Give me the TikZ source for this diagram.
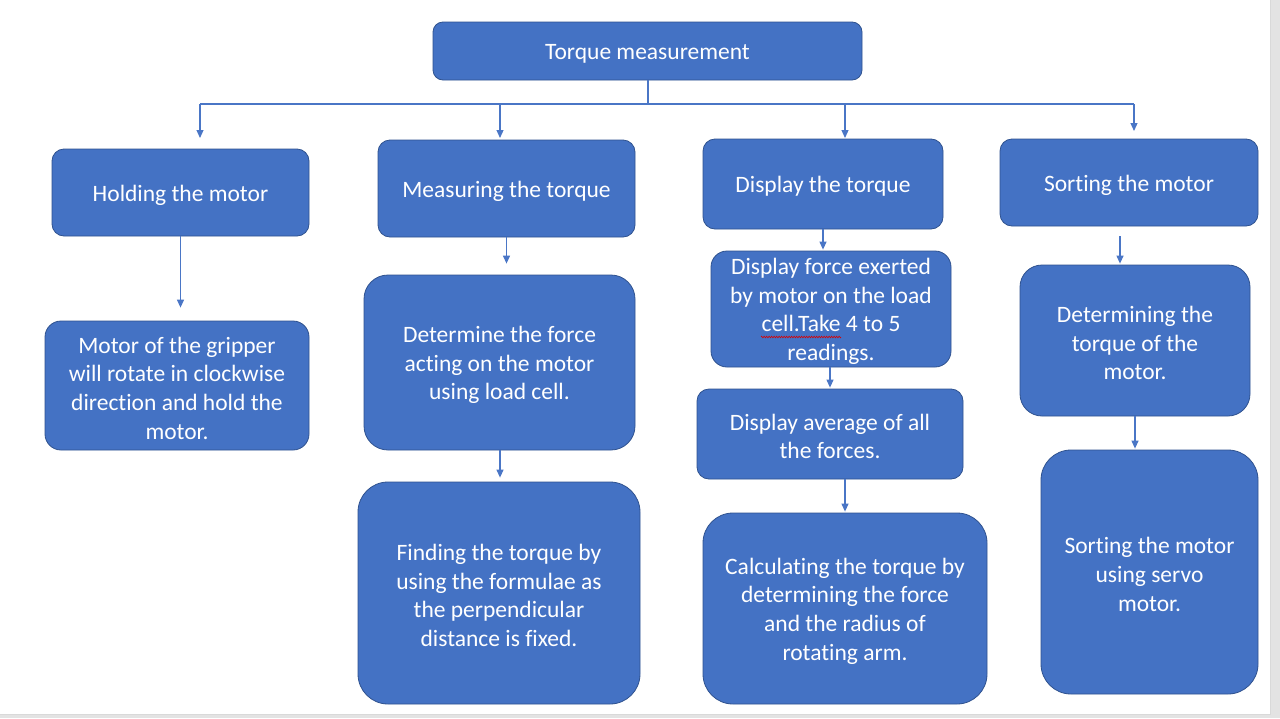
\documentclass[tikz,border=0pt]{standalone}
\usepackage{fontspec}
\setmainfont{Carlito}[Ligatures=NoCommon]
\usetikzlibrary{arrows.meta,decorations.pathmorphing}
\definecolor{boxblue}{HTML}{4472C4}
\definecolor{boxedge}{HTML}{2F528F}
\definecolor{lineblue}{HTML}{4A76C6}
\definecolor{edgegrey}{HTML}{E3E3E3}
\tikzset{
  bx/.style={draw=boxedge, line width=0.8pt, fill=boxblue, rounded corners=#1, inner sep=0pt},
  bx/.default=12pt,
  bxtext/.style={text=white, align=center, inner sep=0pt, font=\fontsize{23.5}{28.7}\selectfont},
  arr/.style={draw=lineblue, line width=1.2pt, -{Triangle[length=8pt,width=7pt]}},
  ln/.style={draw=lineblue, line width=1.2pt}
}
\newcommand{\bbox}[7]{% name, x1, y1, x2, y2, radius, text
  \node[bx=#6, minimum width=#4pt-#2pt, minimum height=#5pt-#3pt] (#1) at ({(#2+#4)/2},{(#3+#5)/2}) {};
  \node[bxtext] (#1t) at ([yshift=-2.5pt]#1.center) {#7};}
\begin{document}
\begin{tikzpicture}[x=1pt,y=-1pt]
\useasboundingbox (0,0) rectangle (1280,718);
\fill[white] (0,0) rectangle (1280,718);
\fill[edgegrey] (1270,0) rectangle (1280,718);
\fill[edgegrey] (0,714) rectangle (1280,718);
\draw[black!15, line width=0.6pt] (1270,0) -- (1270,714) -- (0,714);

\bbox{top}{433}{22}{862}{80}{10pt}{Torque measurement}
\bbox{hold}{52}{149}{309}{236}{12pt}{Holding the motor}
\bbox{meas}{378}{140}{635}{237}{12pt}{Measuring the torque}
\bbox{disp}{703}{139}{943}{229}{12pt}{Display the torque}
\bbox{sort}{1000}{139}{1258}{226}{12pt}{Sorting the motor}
\bbox{mot}{45}{321}{309}{450}{16pt}{Motor of the gripper\\will rotate in clockwise\\direction and hold the\\motor.}
\bbox{det}{364}{275}{635}{450}{24pt}{Determine the force\\acting on the motor\\using load cell.}
\bbox{find}{358}{482}{640}{704}{30pt}{Finding the torque by\\using the formulae as\\the perpendicular\\distance is fixed.}
\bbox{dforce}{711}{251}{951}{367}{16pt}{Display force exerted\\by motor on the load\\cell.Take 4 to 5\\readings.}
\bbox{avg}{697}{389}{963}{479}{12pt}{Display average of all\\the forces.}
\bbox{calc}{703}{513}{987}{704}{30pt}{Calculating the torque by\\determining the force\\and the radius of\\rotating arm.}
\bbox{detT}{1020}{265}{1250}{416}{22pt}{Determining the\\torque of the\\motor.}
\bbox{servo}{1041}{450}{1258}{694}{30pt}{Sorting the motor\\using servo\\motor.}

% red spell-check squiggle
\draw[red!85!black, line width=0.6pt, decorate, decoration={zigzag, segment length=2.5pt, amplitude=0.8pt}] (761,337) -- (841,337);

% top distribution
\coordinate (j) at (648,104);
\coordinate (e1) at (200,138);
\coordinate (e2) at (500,138);
\coordinate (e3) at (845,138);
\coordinate (e4) at (1134,131);
\draw[ln] (top.south -| j) -- (j);
\draw[ln] (j) -- (j -| e1);
\draw[ln] (j) -- (j -| e4);
\draw[arr] (j -| e1) -- (e1);
\draw[arr] (j -| e2) -- (e2);
\draw[arr] (j -| e3) -- (e3);
\draw[arr] (j -| e4) -- (e4);

% column arrows
\draw[arr, shorten >=13pt] (hold.south) -- (hold.south |- mot.north);
\draw[arr, shorten >=11pt] (meas.south) -- (meas.south |- det.north);
\draw[arr, shorten >=4pt] ([xshift=0.5pt]det.south) -- ([xshift=0.5pt]det.south |- find.north);
\draw[arr, shorten >=1pt] (disp.south) -- (disp.south |- dforce.north);
\draw[arr, shorten >=1pt] ([xshift=-1pt]dforce.south) -- ([xshift=-1pt]dforce.south |- avg.north);
\draw[arr, shorten >=1pt] (avg.south -| calc.north) -- (calc.north);
\draw[arr, shorten >=1pt] ([xshift=-9pt,yshift=-10pt]sort.south) -- ([xshift=-9pt]sort.south |- detT.north);
\draw[arr, shorten >=1pt] (detT.south) -- (detT.south |- servo.north);
\end{tikzpicture}
\end{document}
